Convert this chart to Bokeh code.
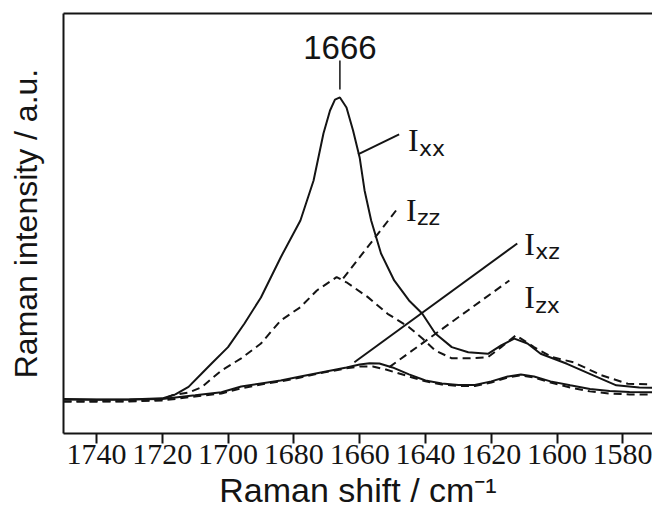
from bokeh.plotting import figure
from bokeh.models import Range1d, LinearAxis, FixedTicker
from bokeh.core.properties import value
from bokeh.embed import file_html
from bokeh.resources import INLINE

# ---- data (Raman shift in cm-1, intensity in arbitrary units) ----
ixx_x = [1750, 1740, 1730, 1720, 1716, 1712, 1708, 1705, 1700, 1695, 1690, 1684, 1678, 1674,
         1671, 1669, 1667.5, 1666, 1664, 1662, 1660, 1658.5, 1656.5, 1653.5, 1649.5, 1645,
         1641, 1637, 1632, 1627, 1621, 1617, 1613, 1609, 1605, 1597, 1589, 1582, 1575, 1571]
ixx_y = [0.5, 0.3, 0.3, 0.7, 2.0, 4.5, 8.9, 12.2, 17.6, 25.4, 34.0, 47.2, 59.4, 72.6,
         88.1, 95.7, 99.3, 100.0, 96.7, 89.1, 80.2, 69.3, 59.4, 48.5, 39.6, 33.0,
         28.7, 22.1, 17.6, 15.9, 15.4, 18.2, 20.4, 18.8, 15.4, 12.1, 8.3, 5.0, 4.3, 4.2]

izz_x = [1750, 1740, 1730, 1720, 1717, 1712, 1708, 1702, 1696, 1690, 1684, 1678, 1673, 1667,
         1664, 1657.5, 1651.5, 1645, 1641, 1637, 1632, 1627, 1621, 1617, 1612.5, 1607,
         1601.5, 1595, 1586.5, 1578.5, 1571]
izz_y = [-0.3, -0.3, -0.2, 0.3, 1.7, 2.6, 4.4, 9.9, 13.9, 18.8, 26.4, 30.8, 36.3, 40.7,
         39.0, 34.1, 28.6, 24.2, 20.5, 16.5, 13.9, 13.9, 14.3, 17.6, 21.5, 17.6,
         14.3, 12.6, 8.3, 5.5, 5.3]

ixz_x = [1750, 1740, 1730, 1720, 1710, 1702, 1696, 1690, 1684, 1678, 1671, 1664, 1660, 1657,
         1654, 1650, 1645, 1640, 1635, 1630, 1625, 1620, 1615, 1611, 1607, 1602, 1596, 1590,
         1584, 1578, 1571]
ixz_y = [0.3, 0.2, 0.3, 0.5, 1.7, 2.7, 4.6, 5.6, 6.6, 7.9, 9.4, 10.9, 11.9, 12.3,
         12.2, 10.9, 8.6, 6.6, 5.6, 5.1, 5.1, 6.3, 7.9, 8.6, 7.9, 6.3, 5.0, 3.8,
         3.1, 2.8, 2.7]

izx_x = [1750, 1740, 1730, 1720, 1710, 1702, 1696, 1690, 1684, 1678, 1671, 1664, 1660, 1656,
         1652, 1648, 1644, 1640, 1635, 1630, 1625, 1620, 1615, 1611, 1607, 1602, 1596, 1590,
         1584, 1578, 1571]
izx_y = [-0.3, -0.3, -0.3, 0.0, 1.3, 2.3, 4.0, 5.3, 6.3, 7.6, 9.2, 10.6, 11.2, 11.2,
         10.2, 8.9, 7.6, 6.3, 5.3, 4.8, 4.8, 5.9, 7.6, 8.3, 7.6, 5.9, 4.3, 3.0,
         2.3, 2.0, 2.0]

x_ticks = [1740, 1720, 1700, 1680, 1660, 1640, 1620, 1600, 1580]
peak_label = "1666"
peak_pos = 1666

# label annotations: (main letter, subscript, label x, label y, leader x0, y0, x1, y1, dashed)
labels = [
    ("I", "xx", 1645.3, 85.8, 1660.5, 81.2, 1648.0, 87.8, False),
    ("I", "zz", 1645.9, 63.0, 1665.0, 40.3, 1648.0, 64.0, True),
    ("I", "xz", 1610.0, 51.8, 1661.6, 12.6, 1612.1, 51.8, False),
    ("I", "zx", 1610.0, 34.0, 1651.0, 11.0, 1614.5, 39.6, True),
]

INK = "#141414"
DASH = "8 5"

p = figure(width=652, height=515, output_backend="svg", toolbar_location=None,
           x_range=Range1d(1750, 1571), y_range=Range1d(-10.9, 127.7),
           x_axis_location=None, y_axis_location=None,
           min_border_left=63, min_border_right=0, min_border_top=13, min_border_bottom=82)
p.outline_line_color = None
p.grid.visible = False
p.background_fill_color = "white"
p.border_fill_color = "white"

# axes
xaxis = LinearAxis(ticker=FixedTicker(ticks=x_ticks), axis_label="Raman shift / cm\u207b\u00b9")
xaxis.major_tick_out = 10
xaxis.major_tick_in = 0
xaxis.minor_tick_line_color = None
xaxis.axis_line_width = 2
xaxis.axis_line_color = INK
xaxis.major_tick_line_width = 2
xaxis.major_tick_line_color = INK
xaxis.major_label_text_font = "Liberation Sans Narrow"
xaxis.major_label_text_font_size = "30px"
xaxis.major_label_text_color = INK
xaxis.major_label_standoff = 1
xaxis.axis_label_text_font = "Liberation Sans"
xaxis.axis_label_text_font_size = "34px"
xaxis.axis_label_text_font_style = "normal"
xaxis.axis_label_text_color = INK
xaxis.axis_label_standoff = 4
p.add_layout(xaxis, "below")

yaxis = LinearAxis(ticker=FixedTicker(ticks=[]), axis_label="Raman intensity / a.u.")
yaxis.major_tick_line_color = None
yaxis.minor_tick_line_color = None
yaxis.major_label_text_font_size = "0px"
yaxis.axis_line_width = 2
yaxis.axis_line_color = INK
yaxis.axis_label_text_font = "Liberation Sans"
yaxis.axis_label_text_font_size = "32px"
yaxis.axis_label_text_font_style = "normal"
yaxis.axis_label_text_color = INK
yaxis.axis_label_standoff = 20
p.add_layout(yaxis, "left")

top = LinearAxis(ticker=FixedTicker(ticks=[]))
top.major_tick_line_color = None
top.minor_tick_line_color = None
top.major_label_text_font_size = "0px"
top.axis_line_width = 2
top.axis_line_color = INK
p.add_layout(top, "above")

# spectra
p.line(ixx_x, ixx_y, line_color=INK, line_width=2)
p.line(izz_x, izz_y, line_color=INK, line_width=2, line_dash=DASH)
p.line(ixz_x, ixz_y, line_color=INK, line_width=2)
p.line(izx_x, izx_y, line_color=INK, line_width=2, line_dash=DASH)

# peak marker
p.segment(x0=[peak_pos], y0=[102.6], x1=[peak_pos], y1=[112.2], line_color=INK, line_width=1.5)
p.text(x=[peak_pos], y=[116.6], text=[peak_label], text_align="center", text_baseline="alphabetic",
       text_font=value("Liberation Sans"), text_font_size="33px", text_color=INK)

# labels and leaders
for main, sub, lx, ly, x0, y0, x1, y1, dashed in labels:
    p.segment(x0=[x0], y0=[y0], x1=[x1], y1=[y1], line_color=INK, line_width=2,
              line_dash=DASH if dashed else "solid")
    p.text(x=[lx], y=[ly], text=[main], text_align="left", text_baseline="alphabetic",
           text_font=value("Liberation Serif"), text_font_size="32px", text_color=INK)
    p.text(x=[lx], y=[ly], text=[sub], x_offset=11, y_offset=8, text_align="left",
           text_baseline="alphabetic", text_font=value("DejaVu Sans"), text_font_size="22px",
           text_color=INK)

open("out.html", "w").write(file_html(p, INLINE))
